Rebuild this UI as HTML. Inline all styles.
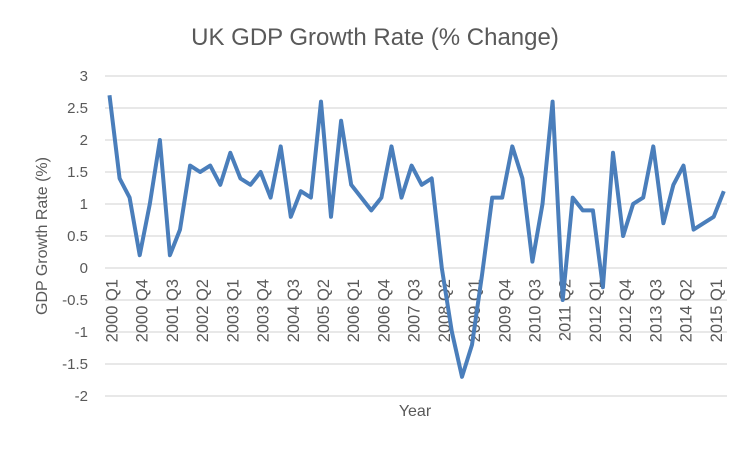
<!DOCTYPE html>
<html><head><meta charset="utf-8"><style>body{margin:0;background:#fff}</style></head><body>
<svg width="750" height="449" xmlns="http://www.w3.org/2000/svg" font-family="'Liberation Sans',sans-serif">
<rect width="750" height="449" fill="#fff"/>
<text x="375" y="45" text-anchor="middle" font-size="24" fill="#595959">UK GDP Growth Rate (% Change)</text>
<g stroke="#d9d9d9" stroke-width="1.3">
<line x1="105" x2="727" y1="76" y2="76"/><line x1="105" x2="727" y1="108" y2="108"/><line x1="105" x2="727" y1="140" y2="140"/><line x1="105" x2="727" y1="172" y2="172"/><line x1="105" x2="727" y1="204" y2="204"/><line x1="105" x2="727" y1="236" y2="236"/><line x1="105" x2="727" y1="268" y2="268"/><line x1="105" x2="727" y1="300" y2="300"/><line x1="105" x2="727" y1="332" y2="332"/><line x1="105" x2="727" y1="364" y2="364"/><line x1="105" x2="727" y1="396" y2="396"/>
</g>
<g font-size="15" fill="#595959" text-anchor="end">
<text x="88" y="81">3</text><text x="88" y="113">2.5</text><text x="88" y="145">2</text><text x="88" y="177">1.5</text><text x="88" y="209">1</text><text x="88" y="241">0.5</text><text x="88" y="273">0</text><text x="88" y="305">-0.5</text><text x="88" y="337">-1</text><text x="88" y="369">-1.5</text><text x="88" y="401">-2</text>
</g>
<text transform="translate(47,236) rotate(-90)" text-anchor="middle" font-size="16" fill="#595959">GDP Growth Rate (%)</text>
<text x="415" y="416" text-anchor="middle" font-size="16" fill="#595959">Year</text>
<g font-size="16.5" fill="#595959" text-anchor="end">
<text transform="translate(117.5,279) rotate(-90)">2000 Q1</text>
<text transform="translate(147.7,279) rotate(-90)">2000 Q4</text>
<text transform="translate(177.9,279) rotate(-90)">2001 Q3</text>
<text transform="translate(208.1,279) rotate(-90)">2002 Q2</text>
<text transform="translate(238.3,279) rotate(-90)">2003 Q1</text>
<text transform="translate(268.6,279) rotate(-90)">2003 Q4</text>
<text transform="translate(298.8,279) rotate(-90)">2004 Q3</text>
<text transform="translate(329.0,279) rotate(-90)">2005 Q2</text>
<text transform="translate(359.2,279) rotate(-90)">2006 Q1</text>
<text transform="translate(389.4,279) rotate(-90)">2006 Q4</text>
<text transform="translate(419.6,279) rotate(-90)">2007 Q3</text>
<text transform="translate(449.9,279) rotate(-90)">2008 Q2</text>
<text transform="translate(480.1,279) rotate(-90)">2009 Q1</text>
<text transform="translate(510.3,279) rotate(-90)">2009 Q4</text>
<text transform="translate(540.5,279) rotate(-90)">2010 Q3</text>
<text transform="translate(570.7,279) rotate(-90)">2011 Q2</text>
<text transform="translate(600.9,279) rotate(-90)">2012 Q1</text>
<text transform="translate(631.2,279) rotate(-90)">2012 Q4</text>
<text transform="translate(661.4,279) rotate(-90)">2013 Q3</text>
<text transform="translate(691.6,279) rotate(-90)">2014 Q2</text>
<text transform="translate(721.8,279) rotate(-90)">2015 Q1</text>
</g>
<polyline fill="none" stroke="#4a7ebb" stroke-width="4" stroke-linejoin="round" points="109.5,95.2 119.6,178.4 129.6,197.6 139.7,255.2 149.8,204.0 159.9,140.0 169.9,255.2 180.0,229.6 190.1,165.6 200.1,172.0 210.2,165.6 220.3,184.8 230.3,152.8 240.4,178.4 250.5,184.8 260.6,172.0 270.6,197.6 280.7,146.4 290.8,216.8 300.8,191.2 310.9,197.6 321.0,101.6 331.0,216.8 341.1,120.8 351.2,184.8 361.3,197.6 371.3,210.4 381.4,197.6 391.5,146.4 401.5,197.6 411.6,165.6 421.7,184.8 431.7,178.4 441.8,268.0 451.9,332.0 462.0,376.8 472.0,344.8 482.1,274.4 492.2,197.6 502.2,197.6 512.3,146.4 522.4,178.4 532.4,261.6 542.5,204.0 552.6,101.6 562.7,300.0 572.7,197.6 582.8,210.4 592.9,210.4 602.9,287.2 613.0,152.8 623.1,236.0 633.1,204.0 643.2,197.6 653.3,146.4 663.4,223.2 673.4,184.8 683.5,165.6 693.6,229.6 703.6,223.2 713.7,216.8 723.8,191.2"/>
</svg>
</body></html>
